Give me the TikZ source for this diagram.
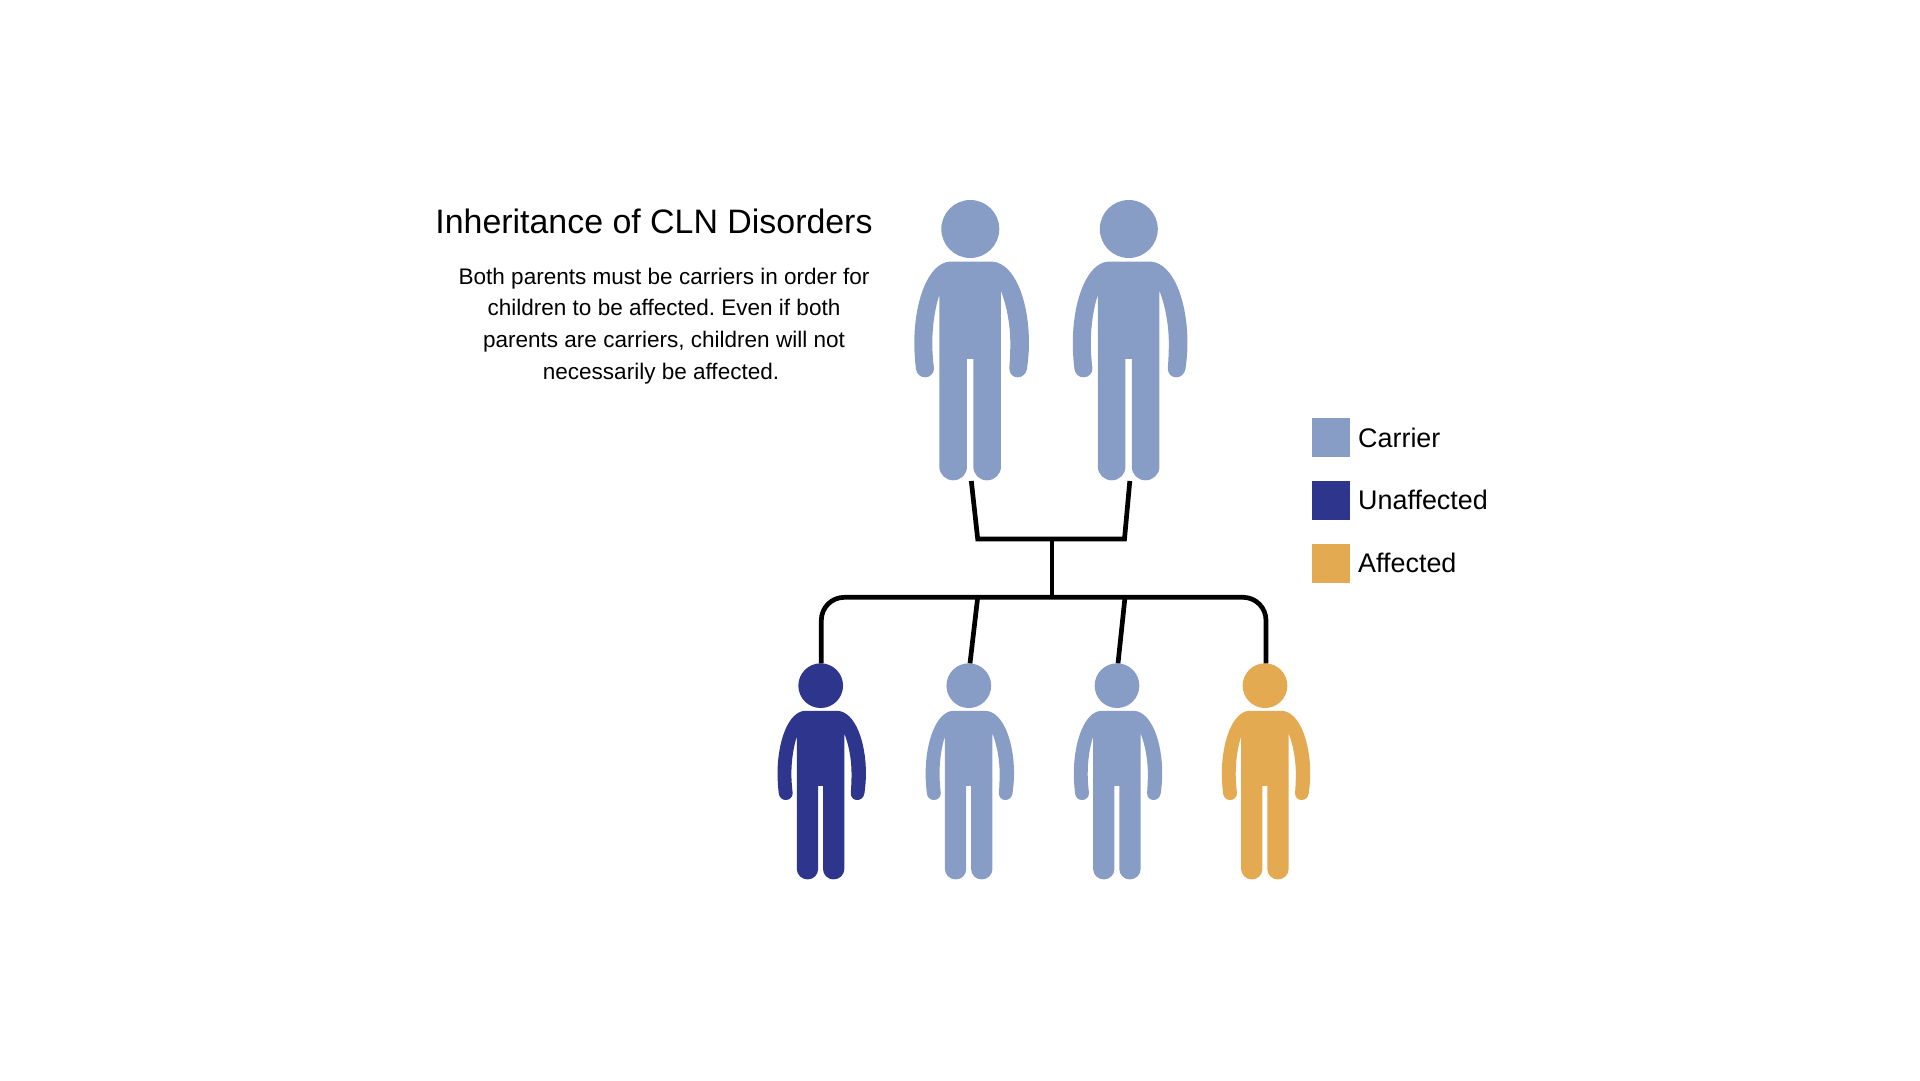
\documentclass[tikz,border=0pt]{standalone}
\usepackage{fontspec}
\setmainfont{Liberation Sans}
\frenchspacing
\definecolor{carrierblue}{RGB}{135,157,197}
\definecolor{unaffectednavy}{RGB}{45,53,140}
\definecolor{affectedorange}{RGB}{228,170,82}
\tikzset{
  person/.pic={
    \begin{scope}[x=.3333pt,y=-.3333pt]
      \coordinate (-top) at (0,0);
      \coordinate (-foot) at (3,843);
      \fill[#1] (0,87) circle [radius=87];
      \fill[#1] (-63,185) -- (67,185)
        .. controls (132,190) and (176,300) .. (176,430)
        .. controls (176,460) and (173,485) .. (170,507)
        .. controls (167,523) and (155,532) .. (142,532)
        .. controls (128,532) and (117,522) .. (117,505)
        .. controls (119,480) and (120,455) .. (120,430)
        .. controls (120,375) and (110,320) .. (92,273)
        -- (92,800)
        .. controls (92,823) and (73,841) .. (50,841)
        .. controls (27,841) and (9,823) .. (9,800)
        -- (9,477) -- (-10,477) -- (-10,800)
        .. controls (-10,823) and (-28,841) .. (-51,841)
        .. controls (-74,841) and (-93,823) .. (-93,800)
        -- (-93,285)
        .. controls (-106,325) and (-114,378) .. (-114,430)
        .. controls (-114,455) and (-112,480) .. (-109,505)
        .. controls (-109,521) and (-121,532) .. (-136,532)
        .. controls (-150,532) and (-161,522) .. (-163,507)
        .. controls (-166,485) and (-168,455) .. (-168,430)
        .. controls (-168,300) and (-125,190) .. (-63,185)
        -- cycle;
    \end{scope}
  },
  childsize/.style={scale=.771},
  swatch/.style={minimum width=38pt,minimum height=39pt,inner sep=0pt,outer sep=0pt,anchor=north west},
  keylabel/.style={anchor=base west,inner sep=0pt,font=\fontsize{26.9}{30}\selectfont},
  link/.style={line width=4.7pt,black,line join=miter},
}
\begin{document}
\begin{tikzpicture}[x=1pt,y=-1pt]
  \useasboundingbox (0,0) rectangle (1920,1080);

  % Parents and children
  \pic (mother) at (970.3,200) {person=carrierblue};
  \pic (father) at (1128.8,200) {person=carrierblue};
  \pic[childsize] (kidA) at (820.7,663.3) {person=unaffectednavy};
  \pic[childsize] (kidB) at (968.8,663.3) {person=carrierblue};
  \pic[childsize] (kidC) at (1117,663.3) {person=carrierblue};
  \pic[childsize] (kidD) at (1265,663.3) {person=affectedorange};

  % Junctions of the pedigree lines
  \coordinate (coupleL) at (977.7,539);
  \coordinate (coupleR) at (1124.5,539);
  \coordinate (coupleMid) at (1052,539);
  \coordinate (railMid) at (1052,597.3);
  \coordinate (railB) at (977.7,597.3);
  \coordinate (railC) at (1125,597.3);
  \coordinate (dropA) at ([xshift=.6pt]kidA-top);
  \coordinate (dropB) at ([xshift=1.2pt]kidB-top);
  \coordinate (dropC) at ([xshift=1pt]kidC-top);
  \coordinate (dropD) at ([xshift=1pt]kidD-top);

  \draw[link] (mother-foot) -- (coupleL) -- (coupleR) -- (father-foot);
  \draw[link] (coupleMid) -- (railMid);
  \draw[link,rounded corners=23pt] (dropA) -- (dropA |- railMid) -- (dropD |- railMid) -- (dropD);
  \draw[link] (railB) -- (dropB);
  \draw[link] (railC) -- (dropC);

  % Heading and explanation
  \node[inner sep=0pt,anchor=base,font=\fontsize{33.9}{40}\selectfont] (title) at (654,233.7)
    {Inheritance of CLN Disorders};
  \node[inner sep=0pt,anchor=base,align=center,font=\fontsize{22.53}{31.6}\selectfont] (note) at (664,379)
    {Both parents must be carriers in order for\\
     children to be affected. Even if both\\
     parents are carriers, children will not\\
     necessarily be affected.\hspace*{6pt}};

  % Colour key
  \node[swatch,fill=carrierblue] (keyC) at (1312,418.3) {};
  \node[swatch,fill=unaffectednavy] (keyU) at (1312,481) {};
  \node[swatch,fill=affectedorange] (keyA) at (1312,544) {};
  \node[keylabel] (labelC) at (1358,447.2) {Carrier};
  \node[keylabel] (labelU) at (1358,509.2) {Unaffected};
  \node[keylabel] (labelA) at (1358,572) {Affected};
\end{tikzpicture}
\end{document}
